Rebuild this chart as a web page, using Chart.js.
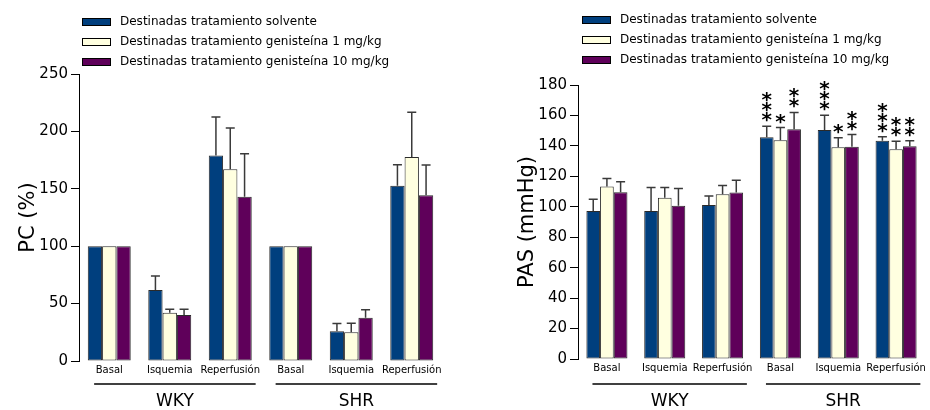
<!DOCTYPE html>
<html>
<head>
<meta charset="utf-8">
<script src="https://cdn.jsdelivr.net/npm/chart.js@4.4.1/dist/chart.umd.min.js"></script>
<style>
  body { margin: 0; background: #fff; }
  #wrap { position: relative; width: 930px; height: 410px; }
  canvas { position: absolute; top: 0; }
</style>
</head>
<body>
<div id="wrap">
  <canvas id="pc" width="465" height="410" style="left:0"></canvas>
  <canvas id="pas" width="465" height="410" style="left:465px"></canvas>
</div>
<script>
const categories = ['Basal', 'Isquemia', 'Reperfusión', 'Basal', 'Isquemia', 'Reperfusión'];
const groupLabels = ['WKY', 'SHR'];
const seriesNames = [
  'Destinadas tratamiento solvente',
  'Destinadas tratamiento genisteína 1 mg/kg',
  'Destinadas tratamiento genisteína 10 mg/kg'
];
const seriesColors = ['#003f7e', '#ffffe0', '#5f005a'];

// left chart: PC (%)
const pcSolvente = [100, 61.8, 179, 100, 26, 152.7];
const pcGen1 = [100, 42, 167, 100, 25, 177.7];
const pcGen10 = [100, 40, 143, 100, 37.7, 144.3];
const pcSolventeErr = [0, 12.2, 33.6, 0, 6.7, 18.3];
const pcGen1Err = [0, 3, 36, 0, 7.8, 39];
const pcGen10Err = [0, 5, 37.6, 0, 7, 26.4];
const pcTicks = [0, 50, 100, 150, 200, 250];

// right chart: PAS (mmHg)
const pasSolvente = [97.3, 97.3, 101.2, 145.7, 150.5, 143.4];
const pasGen1 = [113.3, 106, 108.3, 143.7, 139.1, 137.8];
const pasGen10 = [109.6, 100.6, 109.3, 150.9, 139.5, 139.7];
const pasSolventeErr = [7.7, 15.3, 5.8, 7.2, 9.6, 2.6];
const pasGen1Err = [5.2, 6.6, 5.7, 8.3, 6.3, 5.2];
const pasGen10Err = [6.9, 11.4, 8.1, 11.1, 7.9, 3.7];
const pasSolventeStars = [0, 0, 0, 3, 3, 3];
const pasGen1Stars = [0, 0, 0, 1, 1, 2];
const pasGen10Stars = [0, 0, 0, 2, 2, 2];
const pasTicks = [0, 20, 40, 60, 80, 100, 120, 140, 160, 180];

const FONT = "'DejaVu Sans', sans-serif";

function makeDatasets(values, errs, stars) {
  return values.map((v, i) => ({
    label: seriesNames[i],
    data: v,
    err: errs[i],
    stars: stars ? stars[i] : null,
    backgroundColor: seriesColors[i],
    borderColor: '#2a2a2a',
    borderWidth: 1,
    borderSkipped: false,
    categoryPercentage: 0.71,
    barPercentage: 1.0
  }));
}

// error bars, asterisks, legend, axis title and WKY/SHR brackets
const extras = {
  id: 'extras',
  afterDatasetsDraw(chart, args, opts) {
    const ctx = chart.ctx;
    const y = chart.scales.y;
    const x = chart.scales.x;
    ctx.save();
    chart.data.datasets.forEach((ds, di) => {
      const meta = chart.getDatasetMeta(di);
      meta.data.forEach((bar, i) => {
        const e = ds.err[i];
        let top = bar.y;
        if (e > 0) {
          top = y.getPixelForValue(ds.data[i] + e);
          ctx.strokeStyle = '#3a3a3a';
          ctx.lineWidth = 1.5;
          ctx.beginPath();
          ctx.moveTo(bar.x, bar.y);
          ctx.lineTo(bar.x, top);
          ctx.moveTo(bar.x - 4.5, top);
          ctx.lineTo(bar.x + 4.5, top);
          ctx.stroke();
        }
        const n = ds.stars ? ds.stars[i] : 0;
        if (n) {
          ctx.fillStyle = '#000';
          ctx.font = 'bold 20px ' + FONT;
          ctx.textAlign = 'center';
          ctx.textBaseline = 'alphabetic';
          const m = ctx.measureText('*');
          const off = (m.actualBoundingBoxAscent - m.actualBoundingBoxDescent) / 2;
          for (let k = 0; k < n; k++) {
            ctx.fillText('*', bar.x, top - 9 - k * 10 + off);
          }
        }
      });
    });

    // legend
    ctx.font = '12px ' + FONT;
    ctx.textAlign = 'left';
    ctx.textBaseline = 'middle';
    chart.data.datasets.forEach((ds, i) => {
      const ly = opts.legendY + i * 20;
      ctx.fillStyle = ds.backgroundColor;
      ctx.fillRect(opts.legendX, ly - 4, 29, 8);
      ctx.strokeStyle = '#000';
      ctx.lineWidth = 1;
      ctx.strokeRect(opts.legendX + 0.5, ly - 3.5, 28, 7);
      ctx.fillStyle = '#000';
      ctx.fillText(ds.label, opts.legendX + 38, ly);
    });

    // y title
    ctx.save();
    ctx.translate(opts.titleX, (chart.chartArea.top + chart.chartArea.bottom) / 2 + opts.titleDy);
    ctx.rotate(-Math.PI / 2);
    ctx.font = '21px ' + FONT;
    ctx.textAlign = 'center';
    ctx.fillStyle = '#000';
    ctx.fillText(opts.title, 0, 0);
    ctx.restore();

    // group brackets
    const cw = x.getPixelForValue(1) - x.getPixelForValue(0);
    groupLabels.forEach((g, gi) => {
      const x0 = x.getPixelForValue(gi * 3) - 0.25 * cw;
      const x1 = x.getPixelForValue(gi * 3 + 2) + 0.42 * cw;
      ctx.strokeStyle = '#000';
      ctx.lineWidth = 1.3;
      ctx.beginPath();
      ctx.moveTo(x0, 384);
      ctx.lineTo(x1, 384);
      ctx.stroke();
      ctx.fillStyle = '#000';
      ctx.font = '17px ' + FONT;
      ctx.textAlign = 'center';
      ctx.textBaseline = 'middle';
      ctx.fillText(g, (x0 + x1) / 2, 402);
    });
    ctx.restore();
  }
};

function makeChart(id, values, errs, stars, ticks, pad, extraOpts) {
  return new Chart(document.getElementById(id), {
    type: 'bar',
    data: { labels: categories, datasets: makeDatasets(values, errs, stars) },
    plugins: [extras],
    options: {
      responsive: false,
      animation: false,
      devicePixelRatio: 1,
      layout: { padding: pad },
      plugins: {
        legend: { display: false },
        tooltip: { enabled: false },
        extras: extraOpts
      },
      scales: {
        x: {
          grid: { display: false, drawTicks: false },
          border: { display: false },
          ticks: { font: { family: FONT, size: 10 }, color: '#000', padding: 3, maxRotation: 0, autoSkip: false },
          afterFit: s => { s.height = 20; }
        },
        y: {
          min: ticks[0],
          max: ticks[ticks.length - 1],
          afterBuildTicks: s => { s.ticks = ticks.map(v => ({ value: v })); },
          grid: { drawOnChartArea: false, drawTicks: true, tickLength: 8, color: '#000', lineWidth: 1 },
          border: { color: '#000', width: 1 },
          ticks: { font: { family: FONT, size: 15 }, color: '#000', padding: 3 },
          afterFit: s => { s.width = 60; }
        }
      }
    }
  });
}

makeChart('pc',
  [pcSolvente, pcGen1, pcGen10],
  [pcSolventeErr, pcGen1Err, pcGen10Err],
  null, pcTicks,
  { left: 19, right: 23, top: 74, bottom: 29 },
  { legendX: 82, legendY: 22, title: 'PC (%)', titleX: 29, titleDy: 0 });

makeChart('pas',
  [pasSolvente, pasGen1, pasGen10],
  [pasSolventeErr, pasGen1Err, pasGen10Err],
  [pasSolventeStars, pasGen1Stars, pasGen10Stars], pasTicks,
  { left: 53, right: 5, top: 85, bottom: 31 },
  { legendX: 117, legendY: 20, title: 'PAS (mmHg)', titleX: 63, titleDy: 0 });
</script>
</body>
</html>
